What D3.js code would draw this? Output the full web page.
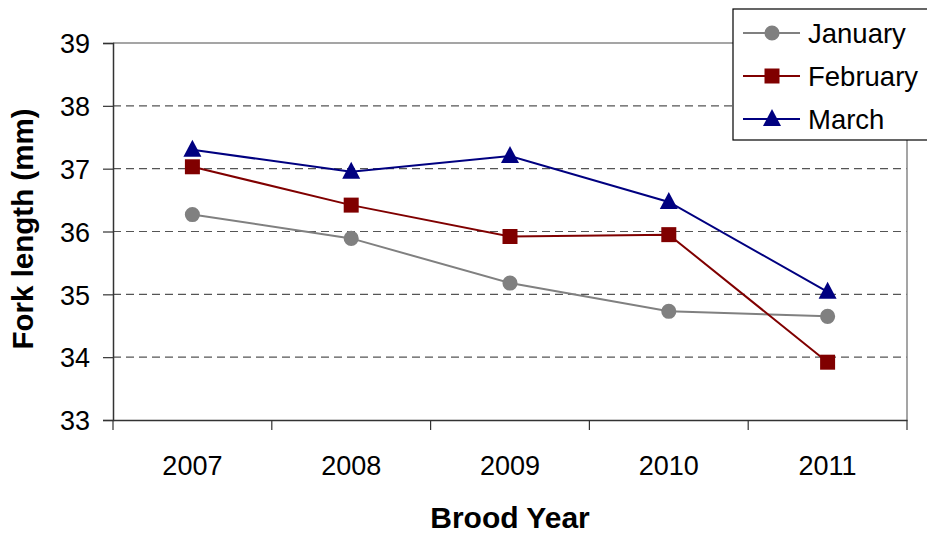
<!DOCTYPE html>
<html>
<head>
<meta charset="utf-8">
<script src="https://cdn.jsdelivr.net/npm/d3@7"></script>
<style>
  body { margin: 0; background: #fff; }
  svg text { font-family: "Liberation Sans", Arial, sans-serif; fill: #000; }
</style>
</head>
<body>
<div id="chart"></div>
<script>
// chart data
const years = ["2007", "2008", "2009", "2010", "2011"];
const january = [36.27, 35.89, 35.18, 34.73, 34.65];
const february = [37.03, 36.42, 35.92, 35.95, 33.92];
const march = [37.30, 36.95, 37.20, 36.47, 35.04];
const seriesNames = ["January", "February", "March"];
const seriesColors = ["#808080", "#800000", "#000080"];
const yTicks = [33, 34, 35, 36, 37, 38, 39];

const W = 927, H = 536;
const margin = { top: 43, right: 20, bottom: 116, left: 113 };
const innerW = 907 - margin.left;
const innerH = 420 - margin.top;

const svg = d3.select("#chart").append("svg")
    .attr("width", W)
    .attr("height", H);

const g = svg.append("g")
    .attr("transform", `translate(${margin.left},${margin.top})`);

const x = d3.scaleBand().domain(years).range([0, innerW]);
const y = d3.scaleLinear().domain([33, 39]).range([innerH, 0]);

// gridlines
g.selectAll(".grid")
    .data(yTicks.filter(d => d > 33 && d < 39))
    .enter().append("line")
    .attr("x1", 0).attr("x2", innerW)
    .attr("y1", d => y(d)).attr("y2", d => y(d))
    .attr("stroke", "#555")
    .attr("stroke-width", 1.2)
    .attr("stroke-dasharray", "8,5");

// plot area border (top + right)
g.append("path")
    .attr("d", `M0,${y(39)}H${innerW}V${innerH}`)
    .attr("fill", "none")
    .attr("stroke", "#888")
    .attr("stroke-width", 1.5);

// y axis
const yAxis = g.append("g")
    .call(d3.axisLeft(y).tickValues(yTicks).tickFormat(d3.format("d")).tickSize(10).tickPadding(13));
yAxis.select(".domain").attr("stroke", "#333").attr("stroke-width", 1.5);
yAxis.selectAll(".tick line").attr("stroke", "#333").attr("stroke-width", 1.2);
yAxis.selectAll("text").style("font-size", "27px").attr("dy", "0.36em");

// x axis with ticks at category boundaries
const xAxis = g.append("g")
    .attr("transform", `translate(0,${innerH})`)
    .call(d3.axisBottom(x).tickSize(0));
xAxis.select(".domain").attr("stroke", "#333").attr("stroke-width", 1.5);
xAxis.selectAll("text")
    .style("font-size", "27px")
    .attr("y", 55)
    .attr("dy", 0);

const bounds = years.map(d => x(d)).concat([innerW]);
g.selectAll(".xtick")
    .data(bounds)
    .enter().append("line")
    .attr("x1", d => d).attr("x2", d => d)
    .attr("y1", innerH).attr("y2", innerH + 10)
    .attr("stroke", "#333")
    .attr("stroke-width", 1.2);

// axis titles
svg.append("text")
    .attr("x", 510).attr("y", 528)
    .attr("text-anchor", "middle")
    .style("font-size", "30px")
    .style("font-weight", "bold")
    .text("Brood Year");

svg.append("text")
    .attr("transform", "translate(33,229) rotate(-90)")
    .attr("text-anchor", "middle")
    .style("font-size", "29.5px")
    .style("font-weight", "bold")
    .text("Fork length (mm)");

// series
const series = [january, february, march].map((vals, i) => ({
    name: seriesNames[i],
    color: seriesColors[i],
    values: vals.map((v, j) => ({ year: years[j], value: v }))
}));

// marker shapes
const tri = "M0,-10L9,7L-9,7Z";
const markers = [
    d3.symbol().type(d3.symbolCircle).size(180)(),
    d3.symbol().type(d3.symbolSquare).size(225)(),
    tri
];

const line = d3.line()
    .x(d => x(d.year) + x.bandwidth() / 2)
    .y(d => y(d.value));

series.forEach((s, i) => {
    g.append("path")
        .datum(s.values)
        .attr("fill", "none")
        .attr("stroke", s.color)
        .attr("stroke-width", 2)
        .attr("d", line);

    g.selectAll(".pt" + i)
        .data(s.values)
        .enter().append("path")
        .attr("transform", d => `translate(${x(d.year) + x.bandwidth() / 2},${y(d.value)})`)
        .attr("d", markers[i])
        .attr("fill", s.color);
});

// legend
const legend = svg.append("g");
legend.append("rect")
    .attr("x", 733).attr("y", 9)
    .attr("width", 210).attr("height", 131)
    .attr("fill", "#fff")
    .attr("stroke", "#000")
    .attr("stroke-width", 1.2);

series.forEach((s, i) => {
    const ly = 33 + i * 43;
    legend.append("line")
        .attr("x1", 743).attr("x2", 800)
        .attr("y1", ly).attr("y2", ly)
        .attr("stroke", s.color)
        .attr("stroke-width", 2);
    legend.append("path")
        .attr("transform", `translate(772,${ly})`)
        .attr("d", markers[i])
        .attr("fill", s.color);
    legend.append("text")
        .attr("x", 808).attr("y", ly)
        .attr("dy", "0.36em")
        .style("font-size", "27.5px")
        .text(s.name);
});
</script>
</body>
</html>
